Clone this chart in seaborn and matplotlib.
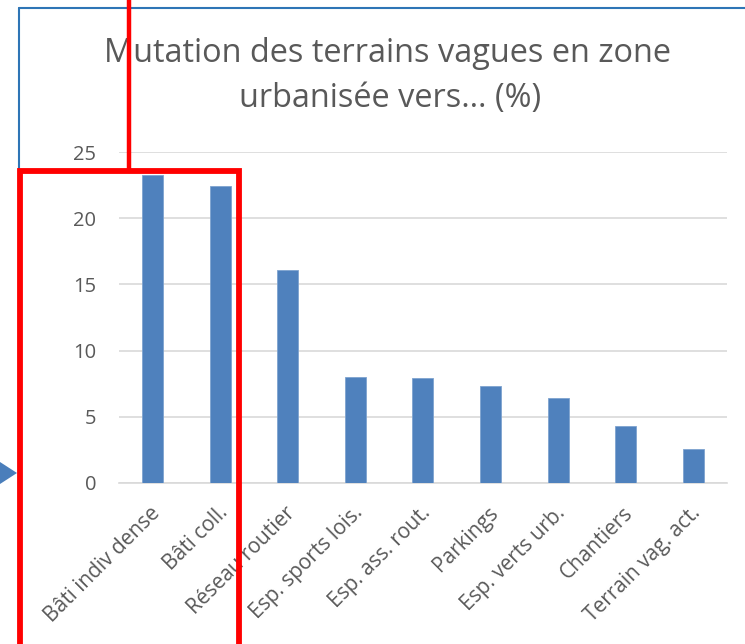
import matplotlib
matplotlib.use("Agg")
import matplotlib.pyplot as plt
from matplotlib.patches import Polygon, Rectangle
from matplotlib.lines import Line2D
from matplotlib.transforms import ScaledTranslation
import seaborn as sns
import pandas as pd

categories = [
    "Bâti indiv dense", "Bâti coll.", "Réseau routier", "Esp. sports lois.",
    "Esp. ass. rout.", "Parkings", "Esp. verts urb.", "Chantiers",
    "Terrain vag. act.",
]
values = [23.3, 22.4, 16.1, 8.0, 7.95, 7.3, 6.4, 4.3, 2.6]
y_ticks = [0, 5, 10, 15, 20, 25]
title_lines = ["Mutation des terrains vagues en zone", "urbanisée vers… (%)"]

sns.set_theme(style="white")
plt.rcParams["font.family"] = ["Open Sans", "DejaVu Sans"]

W, H = 745, 644
fig = plt.figure(figsize=(W / 100, H / 100), dpi=100)
ax = fig.add_axes([118.7 / W, 1 - 483 / H, (727 - 118.7) / W, (483 - 152) / H])

df = pd.DataFrame({"cat": categories, "val": values})
sns.barplot(data=df, x="cat", y="val", color="#4F81BD", saturation=1,
            width=0.31, edgecolor="#7EA3CF", linewidth=0.6, ax=ax, zorder=3)

grey = "#595959"
ax.set_ylim(0, 25)
ax.set_yticks(y_ticks)
ax.set_yticklabels([str(t) for t in y_ticks], color=grey, fontsize=14.5)
ax.yaxis.grid(True, color="#D9D9D9", linewidth=1.2, zorder=0)
ax.xaxis.grid(False)
ax.set_xlabel("")
ax.set_ylabel("")
for side in ["top", "right", "left"]:
    ax.spines[side].set_visible(False)
ax.spines["bottom"].set_color("#D9D9D9")
ax.spines["bottom"].set_linewidth(1.2)
ax.tick_params(axis="both", length=0)
ax.tick_params(axis="y", pad=16)
ax.tick_params(axis="x", pad=14)
plt.setp(ax.get_xticklabels(), rotation=45, ha="right", rotation_mode="anchor",
         color=grey, fontsize=15)
shift = ScaledTranslation(-3 / 100, 0, fig.dpi_scale_trans)
for lbl in ax.get_xticklabels():
    lbl.set_transform(lbl.get_transform() + shift)

# Two-line title
fig.text(388 / W, 1 - 53 / H, title_lines[0], ha="center", va="center",
         fontsize=23.4, color=grey)
fig.text(390 / W, 1 - 99 / H, title_lines[1], ha="center", va="center",
         fontsize=23.4, color=grey)


def px(x, y):
    return (x / W, 1 - y / H)


# Chart frame (left and top edges)
frame_col = "#2E75B6"
fig.add_artist(Line2D([19 / W, 19 / W], [1 - 8 / H, 0], color=frame_col,
                      linewidth=1.5, transform=fig.transFigure))
fig.add_artist(Line2D([19 / W, 1], [1 - 8 / H, 1 - 8 / H], color=frame_col,
                      linewidth=1.5, transform=fig.transFigure))

# Pointer triangle on the left edge
fig.add_artist(Polygon([px(0, 462), px(17, 473), px(0, 484)], closed=True,
                       facecolor="#4A7EBB", edgecolor="none",
                       transform=fig.transFigure))

# Red highlight box and its connector line
red = "#FF0000"
fig.add_artist(Rectangle(px(20, 700), (239 - 20) / W, (700 - 171) / H,
                         fill=False, edgecolor=red, linewidth=4.2,
                         transform=fig.transFigure, zorder=10))
fig.add_artist(Line2D([129 / W, 129 / W], [1, 1 - 171 / H], color=red,
                      linewidth=3.2, transform=fig.transFigure, zorder=10))

fig.savefig("out.png", dpi=100)
